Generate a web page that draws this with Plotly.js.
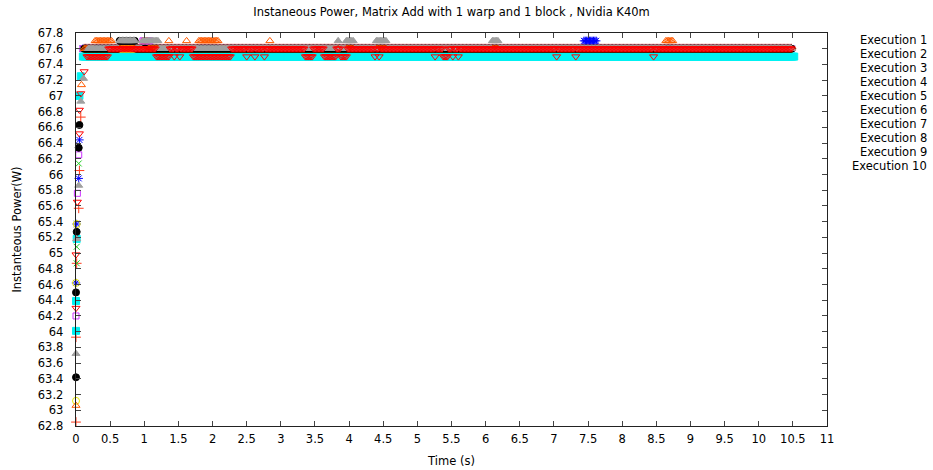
<!DOCTYPE html>
<html><head><meta charset="utf-8">
<script src="https://cdn.plot.ly/plotly-3.0.1.min.js"></script>
<style>body{margin:0;background:#fff}#chart{width:933px;height:470px}</style>
</head><body><div id="chart"></div>
<script>
const seriesNames = ['Execution 1','Execution 2','Execution 3','Execution 4','Execution 5',
  'Execution 6','Execution 7','Execution 8','Execution 9','Execution 10'];
const sampleStep = 0.02; // seconds between readings on the plateau

// Start-up ramp readings (time s, power W)
const exec1RampT = [0, 0, 0.01, 0.04, 0.05, 0.07];
const exec1RampW = [62.85, 63.93, 64.87, 65.57, 66.05, 66.73];
const exec2RampT = [0.01, 0.01, 0.04];
const exec2RampW = [64.87, 65.08, 66.14];
const exec3RampT = [0, 0.01, 0.04, 0.05];
const exec3RampW = [64.62, 65.37, 65.95, 66.44];
const exec4RampT = [0, 0.02, 0.04];
const exec4RampW = [64.20, 65.76, 66.25];
const exec5RampT = [0, 0, 0.01, 0.05, 0.07];
const exec5RampW = [64.01, 64.39, 65.18, 67.0, 67.25];
const exec6RampT = [0, 0, 0.01];
const exec6RampW = [63.12, 64.62, 65.37];
const exec7RampT = [0, 0, 0.01, 0.04, 0.05];
const exec7RampW = [63.42, 64.50, 65.27, 66.34, 66.63];
const exec8RampT = [0, 0.08];
const exec8RampW = [63.06, 67.14];
const exec9RampT = [0, 0.01, 0.04, 0.07, 0.11];
const exec9RampW = [63.72, 65.18, 65.86, 66.93, 67.22];
const exec10RampT = [0, 0, 0.02, 0.05, 0.05, 0.07, 0.12];
const exec10RampW = [64.30, 64.98, 65.65, 66.52, 66.82, 67.03, 67.31];

// Plateau levels as runs [start s, end s, W]; first run is the base level, later runs override it
const exec1Runs = [[0.12, 10.48, 67.6]];
const exec2Runs = [[0.10, 10.48, 67.6]];
const exec3Runs = [[0.10, 10.48, 67.6], [7.44, 7.62, 67.7]];
const exec4Runs = [[0.10, 10.48, 67.6], [0.68, 0.80, 67.7], [0.98, 1.08, 67.7]];
const exec5Runs = [[0.10, 10.52, 67.5]];
const exec6Runs = [[0.12, 10.48, 67.6]];
const exec7Runs = [[0.12, 10.48, 67.6], [0.64, 0.86, 67.7]];
const exec8Runs = [[0.12, 10.48, 67.6], [0.28, 0.52, 67.7], [0.98, 1.04, 67.7], [1.36, 1.36, 67.7],
  [1.62, 1.62, 67.7], [1.80, 2.08, 67.7], [2.84, 2.84, 67.7], [8.64, 8.74, 67.7]];
const exec9Runs = [[0.18, 10.48, 67.6], [0.64, 0.86, 67.7], [0.98, 1.20, 67.7], [3.84, 3.84, 67.7],
  [3.96, 4.06, 67.7], [4.40, 4.54, 67.7], [6.10, 6.18, 67.7]];
const exec10Runs = [[0.16, 10.48, 67.6], [0.16, 0.46, 67.5], [1.18, 1.36, 67.5], [1.44, 1.44, 67.5],
  [1.52, 1.52, 67.5], [1.72, 2.26, 67.5], [2.50, 2.50, 67.5], [2.62, 2.62, 67.5], [2.76, 2.76, 67.5],
  [3.36, 3.46, 67.5], [3.64, 3.80, 67.5], [3.88, 3.96, 67.5], [4.38, 4.38, 67.5], [4.44, 4.44, 67.5],
  [5.26, 5.26, 67.5], [5.38, 5.44, 67.5], [5.52, 5.52, 67.5], [5.60, 5.60, 67.5], [7.04, 7.04, 67.5],
  [7.32, 7.32, 67.5], [8.46, 8.46, 67.5]];

const ramps = [[exec1RampT, exec1RampW], [exec2RampT, exec2RampW], [exec3RampT, exec3RampW],
  [exec4RampT, exec4RampW], [exec5RampT, exec5RampW], [exec6RampT, exec6RampW],
  [exec7RampT, exec7RampW], [exec8RampT, exec8RampW], [exec9RampT, exec9RampW],
  [exec10RampT, exec10RampW]];
const runsList = [exec1Runs, exec2Runs, exec3Runs, exec4Runs, exec5Runs, exec6Runs,
  exec7Runs, exec8Runs, exec9Runs, exec10Runs];

const styles = [
  {symbol: 'cross-thin-open', color: '#ff3a1a', size: 7},
  {symbol: 'x-thin-open', color: '#22cc22', size: 6},
  {symbol: 'asterisk-open', color: '#0000ff', size: 7},
  {symbol: 'square-open', color: '#cc33ff', size: 6},
  {symbol: 'square', color: '#00f2f2', size: 7},
  {symbol: 'circle-open', color: '#e8e800', size: 7},
  {symbol: 'circle', color: '#000000', size: 7},
  {symbol: 'triangle-up-open', color: '#ff5a00', size: 7},
  {symbol: 'triangle-up', color: '#a0a0a0', size: 7},
  {symbol: 'triangle-down-open', color: '#ff0000', size: 7}
];

function build(rampT, rampW, runs) {
  const x = rampT.slice(), y = rampW.slice();
  const base = runs[0];
  const n = Math.round((base[1] - base[0]) / sampleStep);
  for (let k = 0; k <= n; k++) {
    const t = base[0] + k * sampleStep;
    let w = base[2];
    for (let r = 1; r < runs.length; r++) {
      if (t >= runs[r][0] - 0.011 && t <= runs[r][1] + 0.011) w = runs[r][2];
    }
    x.push(t); y.push(w);
  }
  return {x, y};
}

const traces = seriesNames.map((name, i) => {
  const d = build(ramps[i][0], ramps[i][1], runsList[i]);
  const st = styles[i];
  return {
    type: 'scatter', mode: 'markers', name, x: d.x, y: d.y, showlegend: false,
    marker: {symbol: st.symbol, color: st.color, size: st.size,
      line: {width: 1, color: st.color}},
    cliponaxis: false
  };
});

const FONT = 'DejaVu Sans, sans-serif';
const plotTop = 33, plotBottom = 426, plotLeft = 76, plotWidth = 751, plotHeight = 393;
const annotations = seriesNames.map((name, i) => ({
  text: name, xref: 'paper', yref: 'paper', showarrow: false,
  x: (929 - plotLeft) / plotWidth, xanchor: 'right',
  y: (plotBottom - (40 + 14 * i)) / plotHeight, yanchor: 'middle',
  font: {family: FONT, size: 11.5, color: '#000'}
}));

const axisCommon = {
  showgrid: false, zeroline: false, showline: true, linecolor: '#222', linewidth: 1.3,
  ticks: 'inside', ticklen: 5, tickwidth: 1, tickcolor: '#444', mirror: 'allticks',
  tickfont: {family: FONT, size: 11.5, color: '#000'}
};

const layout = {
  width: 933, height: 470,
  margin: {l: plotLeft, r: 933 - plotLeft - plotWidth, t: plotTop, b: 470 - plotBottom},
  paper_bgcolor: '#fff', plot_bgcolor: '#fff',
  font: {family: FONT, size: 11.5, color: '#000'},
  title: {text: 'Instaneous Power, Matrix Add with 1 warp and 1 block , Nvidia K40m',
    x: 0.5, xref: 'paper', y: 1 - 12 / 470, yanchor: 'middle',
    font: {family: FONT, size: 11.5, color: '#000'}},
  xaxis: Object.assign({}, axisCommon, {range: [0, 11], tick0: 0, dtick: 0.5, ticklabelstandoff: 2,
    title: {text: 'Time (s)', font: {family: FONT, size: 11.5, color: '#000'}, standoff: 12}}),
  yaxis: Object.assign({}, axisCommon, {range: [62.8, 67.8], tick0: 62.8, dtick: 0.2, ticklabelstandoff: 9,
    title: {text: 'Instanteous Power(W)', font: {family: FONT, size: 11.5, color: '#000'}, standoff: 13}}),
  annotations,
  showlegend: false
};

Plotly.newPlot('chart', traces, layout, {displayModeBar: false, staticPlot: true});
</script>
</body></html>
